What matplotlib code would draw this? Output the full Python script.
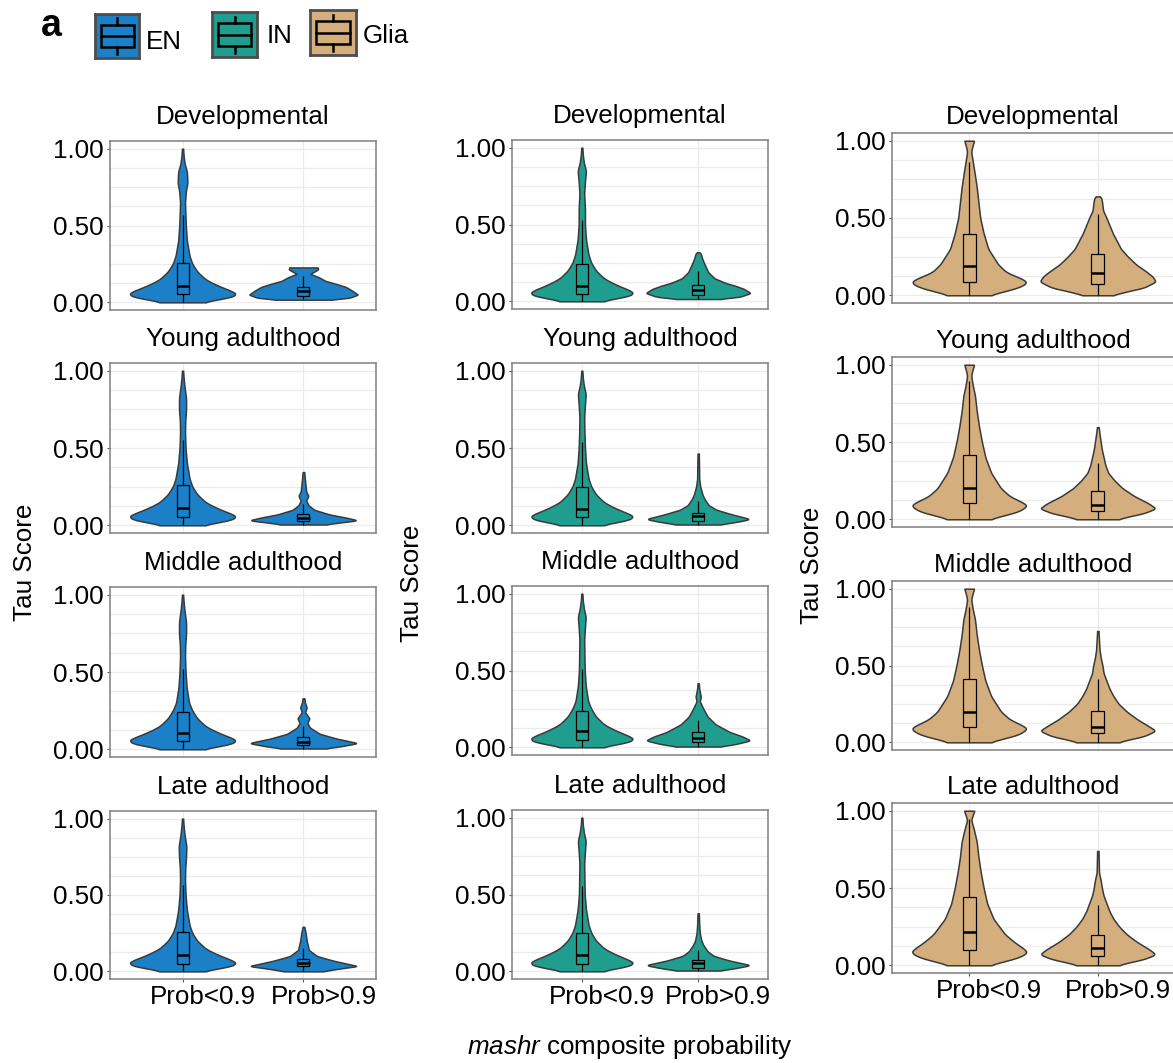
import numpy as np
import matplotlib
matplotlib.use("Agg")
import matplotlib.pyplot as plt
from matplotlib.patches import Rectangle
from matplotlib.ticker import MultipleLocator
from matplotlib.transforms import ScaledTranslation

plt.rcParams['font.family'] = ['Liberation Sans', 'DejaVu Sans']
plt.rcParams['mathtext.fontset'] = 'custom'
plt.rcParams['mathtext.rm'] = 'Liberation Sans'
plt.rcParams['mathtext.it'] = 'Liberation Sans:italic'

# ---- data ----
CELL_TYPES = ["EN", "IN", "Glia"]
STAGES = ["Developmental", "Young adulthood", "Middle adulthood", "Late adulthood"]
GROUPS = ["Prob<0.9", "Prob>0.9"]

# box stats per stage: (whisker low, q1, median, q3, whisker high)
EN_BOX_LOW = [(0.0, 0.055, 0.108, 0.255, 0.57), (0.0, 0.056, 0.114, 0.258, 0.555),
              (0.0, 0.054, 0.108, 0.243, 0.52), (0.0, 0.05, 0.104, 0.255, 0.563)]
EN_BOX_HIGH = [(0.02, 0.039, 0.071, 0.10, 0.173), (0.005, 0.025, 0.045, 0.07, 0.14),
               (0.005, 0.026, 0.045, 0.079, 0.15), (0.0, 0.032, 0.058, 0.08, 0.15)]
IN_BOX_LOW = [(0.0, 0.05, 0.102, 0.244, 0.53), (0.0, 0.054, 0.108, 0.248, 0.536),
              (0.0, 0.05, 0.104, 0.235, 0.512), (0.0, 0.05, 0.104, 0.25, 0.557)]
IN_BOX_HIGH = [(0.015, 0.039, 0.071, 0.108, 0.2), (0.005, 0.028, 0.06, 0.082, 0.158),
               (0.005, 0.037, 0.06, 0.097, 0.177), (0.0, 0.024, 0.054, 0.076, 0.14)]
GLIA_BOX_LOW = [(0.0, 0.088, 0.19, 0.394, 0.86), (0.0, 0.104, 0.205, 0.417, 0.892),
                (0.0, 0.1, 0.2, 0.41, 0.88), (0.0, 0.1, 0.214, 0.44, 0.946)]
GLIA_BOX_HIGH = [(0.0, 0.07, 0.147, 0.267, 0.525), (0.0, 0.054, 0.093, 0.18, 0.363),
                 (0.0, 0.058, 0.1, 0.205, 0.41), (0.0, 0.063, 0.11, 0.195, 0.39)]

# violin outlines: (tau, relative half width)
EN_LOW = [
    [(0.0, 0.38), (0.01, 0.5), (0.03, 0.85), (0.05, 1.0), (0.07, 0.93), (0.09, 0.78), (0.12, 0.58),
     (0.15, 0.42), (0.2, 0.27), (0.25, 0.18), (0.3, 0.13), (0.4, 0.08), (0.5, 0.06), (0.6, 0.05),
     (0.65, 0.045), (0.72, 0.06), (0.78, 0.09), (0.85, 0.08), (0.9, 0.04), (0.95, 0.02), (1.0, 0.01)],
    [(0.0, 0.38), (0.01, 0.5), (0.03, 0.85), (0.054, 1.0), (0.07, 0.93), (0.09, 0.78), (0.12, 0.58),
     (0.15, 0.42), (0.2, 0.27), (0.25, 0.18), (0.3, 0.13), (0.4, 0.08), (0.5, 0.055), (0.6, 0.045),
     (0.68, 0.05), (0.75, 0.065), (0.82, 0.065), (0.9, 0.035), (0.95, 0.02), (1.0, 0.01)],
    [(0.0, 0.38), (0.01, 0.5), (0.03, 0.85), (0.054, 1.0), (0.07, 0.93), (0.09, 0.78), (0.12, 0.58),
     (0.15, 0.42), (0.2, 0.27), (0.25, 0.18), (0.3, 0.12), (0.4, 0.075), (0.5, 0.055), (0.6, 0.045),
     (0.68, 0.05), (0.75, 0.065), (0.82, 0.065), (0.9, 0.035), (0.95, 0.02), (1.0, 0.01)],
    [(0.0, 0.38), (0.01, 0.5), (0.03, 0.85), (0.05, 1.0), (0.07, 0.93), (0.09, 0.78), (0.12, 0.58),
     (0.15, 0.42), (0.2, 0.27), (0.25, 0.18), (0.3, 0.13), (0.4, 0.08), (0.5, 0.055), (0.6, 0.045),
     (0.68, 0.05), (0.75, 0.065), (0.82, 0.07), (0.9, 0.035), (0.95, 0.02), (1.0, 0.01)],
]
EN_HIGH = [
    [(0.017, 0.5), (0.03, 0.85), (0.05, 1.0), (0.075, 0.9), (0.1, 0.78), (0.12, 0.6), (0.14, 0.4),
     (0.16, 0.3), (0.175, 0.2), (0.185, 0.12), (0.2, 0.2), (0.215, 0.27), (0.227, 0.26)],
    [(0.005, 0.4), (0.015, 0.6), (0.032, 1.0), (0.05, 0.78), (0.07, 0.48), (0.1, 0.2), (0.13, 0.09),
     (0.16, 0.05), (0.19, 0.09), (0.22, 0.05), (0.3, 0.025), (0.344, 0.015)],
    [(0.005, 0.4), (0.02, 0.7), (0.04, 1.0), (0.07, 0.6), (0.1, 0.3), (0.14, 0.12), (0.17, 0.07),
     (0.2, 0.11), (0.24, 0.03), (0.27, 0.06), (0.3, 0.03), (0.33, 0.015)],
    [(0.0, 0.35), (0.015, 0.6), (0.035, 1.0), (0.05, 0.8), (0.07, 0.55), (0.1, 0.25), (0.14, 0.1),
     (0.17, 0.08), (0.2, 0.06), (0.25, 0.04), (0.292, 0.015)],
]
IN_LOW = [
    [(0.0, 0.38), (0.01, 0.5), (0.03, 0.85), (0.05, 1.0), (0.07, 0.93), (0.09, 0.78), (0.12, 0.58),
     (0.15, 0.42), (0.2, 0.27), (0.25, 0.18), (0.3, 0.13), (0.4, 0.08), (0.5, 0.06), (0.6, 0.06),
     (0.7, 0.045), (0.78, 0.06), (0.85, 0.08), (0.9, 0.04), (0.95, 0.02), (1.0, 0.01)],
    [(0.0, 0.38), (0.01, 0.5), (0.03, 0.85), (0.054, 1.0), (0.07, 0.93), (0.09, 0.78), (0.12, 0.58),
     (0.15, 0.42), (0.2, 0.27), (0.25, 0.18), (0.3, 0.13), (0.4, 0.08), (0.5, 0.06), (0.6, 0.05),
     (0.7, 0.045), (0.78, 0.06), (0.85, 0.075), (0.9, 0.04), (0.95, 0.02), (1.0, 0.01)],
    [(0.0, 0.38), (0.01, 0.5), (0.03, 0.85), (0.05, 1.0), (0.07, 0.93), (0.09, 0.78), (0.12, 0.58),
     (0.15, 0.42), (0.2, 0.27), (0.25, 0.18), (0.3, 0.12), (0.4, 0.075), (0.5, 0.055), (0.6, 0.05),
     (0.7, 0.045), (0.78, 0.06), (0.85, 0.075), (0.9, 0.04), (0.95, 0.02), (1.0, 0.01)],
    [(0.0, 0.38), (0.01, 0.5), (0.03, 0.85), (0.05, 1.0), (0.07, 0.93), (0.09, 0.78), (0.12, 0.58),
     (0.15, 0.42), (0.2, 0.27), (0.25, 0.18), (0.3, 0.13), (0.4, 0.08), (0.5, 0.055), (0.6, 0.05),
     (0.7, 0.045), (0.78, 0.06), (0.85, 0.075), (0.9, 0.04), (0.95, 0.02), (1.0, 0.01)],
]
IN_HIGH = [
    [(0.015, 0.4), (0.03, 0.8), (0.054, 1.0), (0.08, 0.88), (0.1, 0.72), (0.12, 0.52), (0.15, 0.31),
     (0.19, 0.19), (0.25, 0.11), (0.28, 0.075), (0.31, 0.05), (0.32, 0.02)],
    [(0.005, 0.4), (0.02, 0.7), (0.04, 1.0), (0.07, 0.65), (0.1, 0.35), (0.13, 0.2), (0.17, 0.12),
     (0.2, 0.08), (0.25, 0.04), (0.3, 0.02), (0.464, 0.012)],
    [(0.005, 0.4), (0.02, 0.7), (0.045, 1.0), (0.07, 0.85), (0.1, 0.6), (0.15, 0.33), (0.2, 0.18),
     (0.25, 0.1), (0.3, 0.03), (0.33, 0.05), (0.38, 0.02), (0.417, 0.012)],
    [(0.005, 0.4), (0.02, 0.7), (0.04, 1.0), (0.07, 0.6), (0.1, 0.3), (0.13, 0.18), (0.17, 0.1),
     (0.2, 0.06), (0.25, 0.03), (0.3, 0.02), (0.378, 0.012)],
]
GLIA_LOW = [
    [(0.0, 0.35), (0.02, 0.55), (0.05, 0.85), (0.08, 1.0), (0.1, 0.95), (0.15, 0.64), (0.2, 0.5),
     (0.3, 0.33), (0.4, 0.25), (0.5, 0.19), (0.6, 0.16), (0.7, 0.13), (0.8, 0.09), (0.87, 0.06),
     (0.93, 0.035), (0.97, 0.06), (1.0, 0.085)],
    [(0.0, 0.35), (0.02, 0.55), (0.05, 0.85), (0.085, 1.0), (0.1, 0.97), (0.15, 0.7), (0.2, 0.55),
     (0.3, 0.38), (0.4, 0.28), (0.5, 0.22), (0.6, 0.17), (0.7, 0.13), (0.8, 0.1), (0.87, 0.06),
     (0.93, 0.035), (0.97, 0.06), (1.0, 0.085)],
    [(0.0, 0.35), (0.02, 0.55), (0.05, 0.85), (0.085, 1.0), (0.1, 0.97), (0.15, 0.7), (0.2, 0.55),
     (0.3, 0.38), (0.4, 0.28), (0.5, 0.22), (0.6, 0.17), (0.7, 0.13), (0.8, 0.1), (0.87, 0.06),
     (0.93, 0.035), (0.97, 0.06), (1.0, 0.085)],
    [(0.0, 0.35), (0.02, 0.55), (0.05, 0.85), (0.08, 1.0), (0.1, 0.97), (0.15, 0.78), (0.2, 0.62),
     (0.3, 0.42), (0.4, 0.31), (0.5, 0.25), (0.6, 0.2), (0.7, 0.16), (0.8, 0.13), (0.88, 0.08),
     (0.94, 0.035), (0.97, 0.06), (1.0, 0.09)],
]
GLIA_HIGH = [
    [(0.0, 0.25), (0.02, 0.45), (0.05, 0.8), (0.088, 1.0), (0.12, 0.95), (0.15, 0.85), (0.2, 0.66),
     (0.25, 0.52), (0.3, 0.4), (0.4, 0.26), (0.5, 0.15), (0.55, 0.09), (0.6, 0.075), (0.63, 0.06),
     (0.64, 0.03)],
    [(0.0, 0.35), (0.015, 0.5), (0.04, 0.8), (0.07, 1.0), (0.1, 0.89), (0.15, 0.63), (0.2, 0.43),
     (0.25, 0.29), (0.3, 0.18), (0.35, 0.13), (0.4, 0.1), (0.45, 0.07), (0.5, 0.05), (0.55, 0.03),
     (0.596, 0.015)],
    [(0.0, 0.35), (0.015, 0.5), (0.04, 0.8), (0.075, 1.0), (0.1, 0.9), (0.15, 0.68), (0.2, 0.5),
     (0.25, 0.36), (0.3, 0.27), (0.35, 0.2), (0.4, 0.15), (0.45, 0.1), (0.5, 0.08), (0.55, 0.05),
     (0.6, 0.03), (0.7, 0.015), (0.725, 0.012)],
    [(0.0, 0.35), (0.015, 0.5), (0.04, 0.8), (0.07, 1.0), (0.1, 0.9), (0.15, 0.68), (0.2, 0.5),
     (0.25, 0.37), (0.3, 0.27), (0.35, 0.2), (0.4, 0.15), (0.45, 0.1), (0.5, 0.07), (0.55, 0.05),
     (0.6, 0.02), (0.74, 0.012)],
]

COLORS = {"EN": "#1C80C8", "IN": "#1F9E8F", "Glia": "#D4AF7D"}
EDGE = "#3a3a3a"
FS = 18.7

W, H = 1173, 1063
fig = plt.figure(figsize=(W / 100, H / 100), dpi=100)


def px_axes(x0, x1, y0, y1):
    return fig.add_axes([x0 / W, 1 - y1 / H, (x1 - x0) / W, (y1 - y0) / H])


def smooth_profile(points, n=300, k=9):
    t = np.array([p[0] for p in points])
    w = np.array([p[1] for p in points])
    yy = np.linspace(t[0], t[-1], n)
    ww = np.interp(yy, t, w)
    ww = np.convolve(np.pad(ww, k // 2, mode='edge'), np.ones(k) / k, mode='valid')
    return yy, ww


def draw_violin(ax, x, points, box, color):
    yy, ww = smooth_profile(points)
    ax.fill_betweenx(yy, x - ww * 0.45, x + ww * 0.45, facecolor=color,
                     edgecolor=EDGE, lw=1.1, zorder=2)
    lo, q1, med, q3, hi = box
    ax.vlines(x, lo, q1, color='black', lw=0.9, zorder=3)
    ax.vlines(x, q3, hi, color='black', lw=0.9, zorder=3)
    ax.add_patch(Rectangle((x - 0.05, q1), 0.1, q3 - q1, facecolor='none',
                           edgecolor='black', lw=0.9, zorder=3))
    ax.hlines(med, x - 0.05, x + 0.05, color='black', lw=1.8, zorder=4)


col_x = [(110, 376), (512, 768), (892, 1175)]
col_rows = [
    [(141, 310), (363, 533), (587, 757), (811, 979)],
    [(140, 309), (363, 533), (586, 755), (810, 979)],
    [(133, 303), (357, 527), (581, 750), (803, 973)],
]
title_off = [24, 24, 16]
ylab_pos = [(25, 562), (412, 583), (812, 565)]

low_data = [EN_LOW, IN_LOW, GLIA_LOW]
high_data = [EN_HIGH, IN_HIGH, GLIA_HIGH]
low_box = [EN_BOX_LOW, IN_BOX_LOW, GLIA_BOX_LOW]
high_box = [EN_BOX_HIGH, IN_BOX_HIGH, GLIA_BOX_HIGH]

for c, ct in enumerate(CELL_TYPES):
    x0, x1 = col_x[c]
    for r, stage in enumerate(STAGES):
        y0, y1 = col_rows[c][r]
        ax = px_axes(x0, x1, y0, y1)
        ax.set_xlim(0.4, 2.6)
        ax.set_ylim(-0.05, 1.05)
        ax.set_facecolor('white')
        ax.yaxis.set_minor_locator(MultipleLocator(0.125))
        ax.set_yticks([0, 0.5, 1.0])
        ax.set_yticklabels(["0.00", "0.50", "1.00"], fontsize=FS)
        ax.set_xticks([1, 2])
        ax.grid(True, which='both', axis='y', color='#EBEBEB', lw=0.9, zorder=0)
        ax.grid(True, which='major', axis='x', color='#EBEBEB', lw=0.9, zorder=0)
        ax.set_axisbelow(True)
        ax.tick_params(axis='y', which='major', length=2.5, width=0.8, color='#555555',
                       pad=2.2, labelcolor='black')
        ax.tick_params(axis='y', which='minor', length=0)
        for sp in ax.spines.values():
            sp.set_color('#7f7f7f')
            sp.set_linewidth(1.1)
        if r == 3:
            ax.set_xticklabels(GROUPS, fontsize=FS)
            ax.tick_params(axis='x', length=2.5, width=0.8, color='#555555', pad=1.5)
            for lab in ax.get_xticklabels():
                lab.set_transform(lab.get_transform() + ScaledTranslation(0.2, 0, fig.dpi_scale_trans))
        else:
            ax.set_xticklabels([])
            ax.tick_params(axis='x', length=0)

        draw_violin(ax, 1, low_data[c][r], low_box[c][r], COLORS[ct])
        draw_violin(ax, 2, high_data[c][r], high_box[c][r], COLORS[ct])

        fig.text((x0 + min(x1, 1174)) / 2 / W, 1 - (y0 - title_off[c]) / H, stage,
                 ha='center', va='center', fontsize=FS)

    lx, ly = ylab_pos[c]
    fig.text(lx / W, 1 - ly / H, "Tau Score", rotation=90, ha='center', va='center', fontsize=FS)

fig.text(630 / W, 1 - 1047 / H, r"$\it{mashr}$ composite probability",
         ha='center', va='center', fontsize=FS)

# panel letter and legend
fig.text(51 / W, 1 - 26 / H, "a", ha='center', va='center', fontsize=27, fontweight='bold')

legend_keys = [(95, 139, 14, 58, 146, 42), (212, 257, 12, 57, 267, 36), (310, 356, 10, 55, 363, 36)]
for ct, (kx0, kx1, ky0, ky1, tx, ty) in zip(CELL_TYPES, legend_keys):
    kax = px_axes(kx0, kx1, ky0, ky1)
    kax.set_xlim(0, 1)
    kax.set_ylim(0, 1)
    kax.set_xticks([])
    kax.set_yticks([])
    kax.set_facecolor(COLORS[ct])
    for sp in kax.spines.values():
        sp.set_color('#4d4d4d')
        sp.set_linewidth(2)
    kax.add_patch(Rectangle((0.125, 0.25), 0.75, 0.5, facecolor='none', edgecolor='black', lw=1.8))
    kax.plot([0.125, 0.875], [0.5, 0.5], color='black', lw=1.8)
    kax.plot([0.5, 0.5], [0.75, 0.9], color='black', lw=1.8)
    kax.plot([0.5, 0.5], [0.1, 0.25], color='black', lw=1.8)
    fig.text(tx / W, 1 - ty / H, ct, ha='left', va='center', fontsize=FS)

fig.savefig("out.png", dpi=100)
